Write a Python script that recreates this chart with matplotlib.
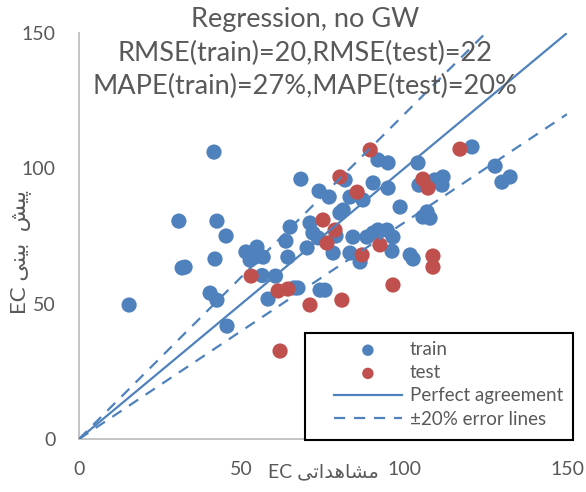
#!/usr/bin/env python
"""
Observed vs predicted EC, regression without GW
"""
import numpy as np
import matplotlib
matplotlib.use('Agg')
import matplotlib.pyplot as plt
from matplotlib.patches import Rectangle

# train points (observed EC, predicted EC)
train_x = [15.4, 41.5, 30.7, 42.4, 45.2, 32.6, 31.7, 41.8, 40.3, 42.4, 45.5,
           51.3, 54.7, 54.1, 56.6, 52.6, 56.3, 60.4, 58.1, 66.1, 67.3, 64.2,
           63.6, 64.9, 68.2, 70.1, 71.0, 71.9, 73.8, 76.9, 81.8, 90.4, 95.0,
           91.9, 95.0, 83.3, 87.3, 98.7, 81.2, 80.2, 84.2, 88.5, 91.9, 94.7,
           96.5, 73.5, 78.1, 83.3, 96.2, 101.8, 102.7, 86.4, 74.1, 75.6, 104.5,
           104.2, 109.4, 111.9, 111.6, 120.8, 127.9, 130.0, 132.5, 105.7, 107.0,
           107.9, 79.0, 90.4]
train_y = [49.5, 106.0, 80.5, 80.5, 75.0, 63.5, 63.2, 66.5, 53.9, 51.3, 41.7,
           69.1, 70.9, 67.2, 67.2, 66.1, 60.4, 60.2, 51.7, 55.8, 55.8, 67.2,
           73.1, 78.3, 96.0, 70.6, 79.8, 76.1, 91.6, 89.4, 95.7, 94.6, 92.7,
           103.1, 102.0, 89.4, 88.3, 85.7, 84.6, 83.5, 74.6, 74.6, 77.2, 77.2,
           74.6, 74.3, 68.7, 68.7, 69.4, 68.0, 66.5, 65.4, 55.0, 55.0, 93.8,
           102.0, 95.7, 96.8, 93.8, 107.9, 100.8, 94.9, 96.8, 82.0, 83.9,
           81.6, 75.0, 76.1]

# test points
test_x = [52.9, 61.2, 64.2, 71.0, 61.8, 80.8, 96.5, 87.0, 92.5, 76.2,
          75.0, 78.7, 80.2, 85.5, 89.5, 105.7, 107.3, 117.1, 108.8, 108.8]
test_y = [60.2, 54.7, 55.4, 49.5, 32.5, 51.3, 56.9, 68.0, 71.7, 72.4,
          80.9, 77.2, 96.8, 91.2, 106.8, 96.0, 92.7, 107.1, 67.6, 63.5]

ticks = [0, 50, 100, 150]
title_lines = ['Regression, no GW',
               'RMSE(train)=20,RMSE(test)=22',
               'MAPE(train)=27%,MAPE(test)=20%']

# Persian labels, pre-shaped into presentation forms (visual order)
fa_observed = '\ufef0\ufe97\ufe8d\ufeaa\ufeeb\ufe8e\ufeb8\ufee3'
fa_predicted = '\ufef0\ufee8\ufef4\ufe91  \ufeb6\ufef4\ufb58'

blue = '#4F81BD'
red = '#C0504D'
grey = '#595959'

plt.rcParams['font.family'] = ['Lato', 'DejaVu Sans']

fig = plt.figure(figsize=(5.86, 4.92), dpi=100)
ax = fig.add_axes([79/586, 1 - 439/492, 488/586, 406/492])

ax.scatter(train_x, train_y, s=120, color=blue, edgecolors='none',
           label='train', zorder=2)
ax.scatter(test_x, test_y, s=120, color=red, edgecolors='none',
           label='test', zorder=3)

xl = np.array([0, 150])
ax.plot(xl, xl, '-', color=blue, lw=1.6, label='Perfect agreement', zorder=4)
ax.plot(xl, 1.2 * xl, '--', color=blue, lw=1.6, dashes=(5, 4),
        label='\u00b120% error lines', zorder=4)
ax.plot(xl, 0.8 * xl, '--', color=blue, lw=1.6, dashes=(5, 4), zorder=4)

ax.set_xlim(0, 150)
ax.set_ylim(0, 150)
ax.set_xticks(ticks)
ax.set_yticks(ticks)
ax.tick_params(length=0, labelsize=14, labelcolor=grey)
ax.tick_params(axis='x', pad=16)
ax.tick_params(axis='y', pad=17)
for s in ['top', 'right']:
    ax.spines[s].set_visible(False)
for s in ['left', 'bottom']:
    ax.spines[s].set_color('#BFBFBF')
    ax.spines[s].set_linewidth(1.3)

fig.text(305/586, 1 - 7/492, '\n'.join(title_lines), ha='center', va='top',
         fontsize=19.5, color=grey, linespacing=1.42)

fig.text(323/586, 1 - 472/492, 'EC ' + fa_observed, ha='center',
         va='center', fontsize=14, color=grey)
fig.text(21/586, 1 - 252/492, 'EC ' + fa_predicted, ha='center',
         va='center', rotation=90, fontsize=16, color=grey)

# legend frame drawn separately so the box can be wider than its content
fig.add_artist(Rectangle((305/586, 1 - 440/492), 268/586, 107/492,
                         transform=fig.transFigure, facecolor='white',
                         edgecolor='black', lw=1.5, zorder=5))
handles, labels = ax.get_legend_handles_labels()
leg = fig.legend(handles, labels, loc='upper left',
                 bbox_to_anchor=(321/586, 1 - 328/492), fontsize=13.5,
                 frameon=False, handlelength=3.6, handletextpad=0.45,
                 borderpad=0.2, labelspacing=0.33, markerscale=0.75)
leg.set_zorder(6)
for t in leg.get_texts():
    t.set_color(grey)

plt.savefig('out.png', dpi=100)
plt.close()
